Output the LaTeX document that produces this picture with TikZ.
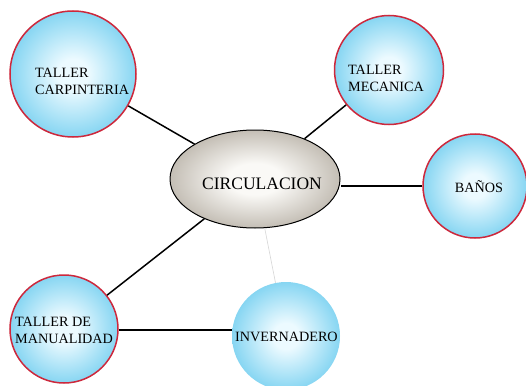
\documentclass[tikz,border=0pt]{standalone}
\usepackage{fontspec}
\setmainfont{Liberation Serif}
\usetikzlibrary{shapes.geometric}
\definecolor{bubin}{RGB}{236,250,255}
\definecolor{bubedge}{RGB}{55,185,232}
\definecolor{bubred}{RGB}{205,40,60}
\definecolor{ellin}{RGB}{250,249,246}
\definecolor{elledge}{RGB}{135,124,108}
\definecolor{faint}{RGB}{215,215,215}
\pgfdeclareradialshading{bubble}{\pgfpoint{0bp}{0bp}}{color(0bp)=(bubin); color(6bp)=(bubin); color(40bp)=(bubedge); color(50bp)=(bubedge)}
\pgfdeclareradialshading{ellshade}{\pgfpoint{0bp}{0bp}}{color(0bp)=(ellin); color(8bp)=(ellin); color(44bp)=(elledge); color(50bp)=(elledge)}
\tikzset{
  bubble/.style={circle, shading=bubble, draw=bubred, line width=1.5pt, inner sep=0pt},
  bubplain/.style={circle, shading=bubble, inner sep=0pt},
  hub/.style={ellipse, shading=ellshade, draw=black, line width=1pt, inner sep=0pt, minimum width=170pt, minimum height=98pt},
  lbl/.style={font=\fontsize{14.2}{17}\selectfont, align=left, inner sep=0pt, text=black},
  link/.style={draw=black, line width=1.5pt},
  faintlink/.style={draw=faint, line width=0.6pt}
}
\begin{document}
\begin{tikzpicture}[x=1pt,y=-1pt]
\useasboundingbox (0,0) rectangle (526,385);
\clip (0,0) rectangle (526,385);
\fill[white] (0,0) rectangle (526,385);
% bubbles
\node[bubble, minimum size=126pt] (carp) at (73,74) {};
\node[bubble, minimum size=109pt] (meca) at (389,70) {};
\node[bubble, minimum size=104pt] (banos) at (475,186) {};
\node[bubble, minimum size=108pt] (manu) at (64,329) {};
\node[bubplain, minimum size=108pt] (inv) at (286,336) {};
\node[hub] (circ) at (255,179) {};
% labels
\node[lbl, anchor=west] (tcarp) at (35,81) {TALLER\\CARPINTERIA};
\node[lbl, anchor=west] (tmeca) at (348,78) {TALLER\\MECANICA};
\node[lbl] (tbanos) at (479,187) {BAÑOS};
\node[lbl, anchor=west] (tmanu) at (15,330) {TALLER DE\\MANUALIDAD};
\node[lbl, anchor=west] (tinv) at (235,337) {INVERNADERO};
\node[lbl, font=\fontsize{17.5}{20}\selectfont] (tcirc) at (262,184) {CIRCULACION};
% connectors
\draw[link] (carp) -- (circ);
\draw[link] (meca) -- (circ);
\draw[link] (banos.west |- 0,186) -- (circ.east |- 0,186);
\draw[link] (manu) -- (circ);
\draw[link] (manu.east |- 0,330) -- (inv.west |- 0,330);
\draw[faintlink] (circ) -- (inv);
\end{tikzpicture}
\end{document}
